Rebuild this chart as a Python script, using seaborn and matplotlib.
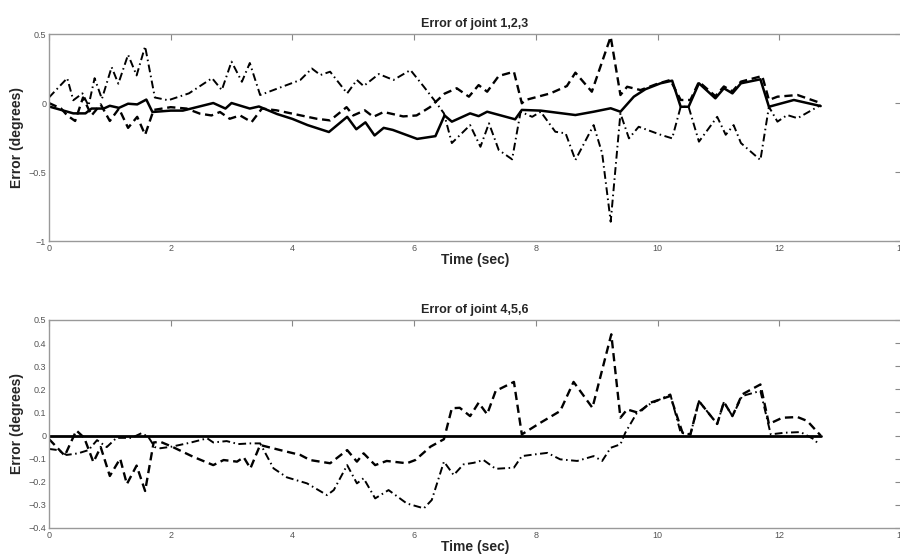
import matplotlib

matplotlib.use("Agg")
import matplotlib.pyplot as plt
import seaborn as sns

sns.set_style("white")
plt.rcParams["font.family"] = ["Liberation Sans", "DejaVu Sans"]

# ── Data: joint errors (time in sec, error in degrees) ──
# joints 1,2,3
t_j1 = [0, 0.2, 0.4, 0.6, 0.7, 0.9, 1.0, 1.15, 1.3, 1.45, 1.6, 1.7, 2.0, 2.2, 2.7, 2.9,
        3.0, 3.3, 3.45, 3.75, 4.0, 4.25, 4.6, 4.9, 5.05, 5.2, 5.35, 5.5, 5.65, 6.05, 6.35,
        6.5, 6.62, 6.92, 7.06, 7.2, 7.66, 7.77, 8.08, 8.65, 8.95, 9.23, 9.39, 9.61, 9.8,
        10.05, 10.24, 10.38, 10.51, 10.68, 10.95, 11.09, 11.23, 11.37, 11.69, 11.83, 12.24, 12.68]
err_j1 = [-0.025, -0.05, -0.075, -0.075, -0.04, -0.04, -0.02, -0.035, -0.005, -0.01, 0.025,
          -0.065, -0.055, -0.055, 0.0, -0.04, 0.0, -0.04, -0.025, -0.08, -0.115, -0.16, -0.21,
          -0.1, -0.19, -0.14, -0.235, -0.18, -0.195, -0.26, -0.24, -0.09, -0.135, -0.075,
          -0.095, -0.063, -0.118, -0.05, -0.055, -0.087, -0.063, -0.038, -0.063, 0.046, 0.1,
          0.143, 0.162, -0.027, -0.027, 0.143, 0.034, 0.107, 0.07, 0.143, 0.172, -0.027, 0.022, -0.022]

t_j2 = [0, 0.2, 0.3, 0.43, 0.56, 0.7, 0.85, 1.0, 1.15, 1.3, 1.45, 1.58, 1.72, 2.0, 2.26,
        2.48, 2.67, 2.81, 2.97, 3.14, 3.33, 3.5, 3.74, 4.0, 4.4, 4.62, 4.89, 5.0, 5.19, 5.33,
        5.5, 5.82, 6.04, 6.26, 6.5, 6.7, 6.9, 7.06, 7.2, 7.39, 7.64, 7.77, 7.83, 8.24, 8.51,
        8.65, 8.92, 9.23, 9.39, 9.5, 9.72, 10.0, 10.21, 10.38, 10.54, 10.68, 10.95, 11.09,
        11.23, 11.37, 11.72, 11.83, 11.97, 12.3, 12.68]
err_j2 = [0.0, -0.04, -0.09, -0.13, 0.04, -0.09, -0.01, -0.13, -0.04, -0.18, -0.1, -0.23,
          -0.05, -0.03, -0.04, -0.077, -0.09, -0.065, -0.114, -0.09, -0.138, -0.04, -0.053,
          -0.077, -0.114, -0.126, -0.03, -0.09, -0.053, -0.1, -0.065, -0.097, -0.09, -0.03,
          0.068, 0.107, 0.046, 0.13, 0.082, 0.196, 0.227, -0.002, 0.022, 0.07, 0.123, 0.22,
          0.082, 0.48, 0.058, 0.118, 0.094, 0.14, 0.167, 0.022, 0.022, 0.154, 0.05, 0.12,
          0.085, 0.155, 0.196, 0.022, 0.046, 0.058, 0.0]

t_j3 = [0, 0.3, 0.4, 0.55, 0.65, 0.75, 0.87, 1.03, 1.14, 1.3, 1.44, 1.58, 1.74, 1.96, 2.3,
        2.68, 2.84, 3.0, 3.17, 3.3, 3.47, 4.13, 4.32, 4.46, 4.62, 4.9, 5.06, 5.17, 5.42,
        5.66, 5.94, 6.16, 6.35, 6.49, 6.62, 6.92, 7.09, 7.23, 7.39, 7.61, 7.75, 7.94, 8.08,
        8.32, 8.49, 8.65, 8.95, 9.09, 9.23, 9.39, 9.53, 9.69, 10.05, 10.24, 10.38, 10.51,
        10.68, 10.98, 11.12, 11.25, 11.37, 11.69, 11.83, 11.97, 12.13, 12.3, 12.68]
err_j3 = [0.04, 0.18, 0.02, 0.07, -0.02, 0.18, 0.03, 0.26, 0.14, 0.35, 0.2, 0.41, 0.04,
          0.02, 0.07, 0.18, 0.094, 0.3, 0.154, 0.29, 0.058, 0.167, 0.25, 0.203, 0.227, 0.07,
          0.167, 0.123, 0.21, 0.167, 0.239, 0.118, 0.01, -0.075, -0.29, -0.16, -0.317,
          -0.147, -0.34, -0.408, -0.063, -0.1, -0.063, -0.208, -0.22, -0.413, -0.16, -0.365,
          -0.86, -0.075, -0.256, -0.172, -0.23, -0.256, -0.027, -0.027, -0.28, -0.1, -0.23,
          -0.16, -0.29, -0.413, -0.027, -0.135, -0.087, -0.11, -0.015]

# joints 4,5,6
t_j4 = [0, 12.68]
err_j4 = [0.0, 0.0]

t_j5 = [0, 0.26, 0.45, 0.58, 0.73, 0.85, 1.0, 1.17, 1.28, 1.44, 1.58, 1.72, 1.83, 2.02,
        2.37, 2.7, 2.87, 3.09, 3.2, 3.31, 3.47, 3.8, 4.13, 4.29, 4.62, 4.9, 5.06, 5.17,
        5.36, 5.55, 5.88, 6.02, 6.27, 6.49, 6.62, 6.75, 6.92, 7.06, 7.2, 7.34, 7.64, 7.77,
        8.08, 8.4, 8.62, 8.93, 9.24, 9.39, 9.5, 9.69, 9.88, 10.21, 10.41, 10.54, 10.68,
        10.98, 11.09, 11.23, 11.39, 11.69, 11.83, 12.05, 12.3, 12.46, 12.68]
err_j5 = [-0.015, -0.087, 0.022, -0.01, -0.115, -0.05, -0.175, -0.1, -0.21, -0.13, -0.24,
          -0.03, -0.027, -0.048, -0.092, -0.128, -0.106, -0.113, -0.094, -0.142, -0.041,
          -0.063, -0.084, -0.106, -0.12, -0.063, -0.113, -0.077, -0.128, -0.11, -0.12,
          -0.106, -0.048, -0.016, 0.118, 0.12, 0.084, 0.142, 0.092, 0.193, 0.232, 0.005,
          0.056, 0.106, 0.232, 0.12, 0.438, 0.077, 0.113, 0.098, 0.142, 0.171, 0.012, 0.005,
          0.149, 0.05, 0.145, 0.084, 0.178, 0.221, 0.05, 0.077, 0.08, 0.063, 0.0]

t_j6 = [0, 0.15, 0.29, 0.48, 0.65, 0.79, 0.95, 1.11, 1.36, 1.52, 1.63, 1.74, 1.83, 2.02,
        2.32, 2.6, 2.7, 2.92, 3.11, 3.31, 3.47, 3.69, 3.91, 4.24, 4.57, 4.68, 4.9, 5.06,
        5.17, 5.36, 5.58, 5.88, 6.16, 6.29, 6.49, 6.65, 6.81, 6.98, 7.14, 7.34, 7.64, 7.77,
        7.97, 8.19, 8.4, 8.68, 8.95, 9.09, 9.23, 9.39, 9.47, 9.66, 9.86, 10.21, 10.38,
        10.54, 10.68, 10.98, 11.09, 11.23, 11.39, 11.69, 11.86, 12.08, 12.35, 12.57, 12.62]
err_j6 = [-0.058, -0.063, -0.084, -0.077, -0.063, -0.02, -0.05, -0.01, -0.01, 0.01, -0.005,
          -0.05, -0.055, -0.048, -0.031, -0.012, -0.03, -0.024, -0.037, -0.034, -0.034,
          -0.142, -0.181, -0.207, -0.258, -0.236, -0.128, -0.207, -0.185, -0.272, -0.236,
          -0.294, -0.315, -0.279, -0.113, -0.171, -0.125, -0.118, -0.106, -0.144, -0.139,
          -0.089, -0.082, -0.075, -0.103, -0.11, -0.089, -0.11, -0.053, -0.038, 0.012, 0.098,
          0.134, 0.178, 0.012, 0.005, 0.149, 0.05, 0.145, 0.084, 0.171, 0.193, 0.005, 0.012,
          0.015, -0.016, -0.03]

SOLID = "-"
DASHED = (0, (3.5, 2))
DASHDOT = (0, (4, 1.8, 0.8, 1.8))

fig = plt.figure(figsize=(9, 5.56), dpi=100)
ax1 = fig.add_axes([0.0544, 0.5665, 0.9467, 0.3723])
ax2 = fig.add_axes([0.0544, 0.0504, 0.9467, 0.3741])

panels = [
    (ax1, "Error of joint 1,2,3",
     [(t_j1, err_j1, SOLID, 1.8), (t_j2, err_j2, DASHED, 1.7), (t_j3, err_j3, DASHDOT, 1.4)],
     (-1, 0.5), [-1, -0.5, 0, 0.5], ["\u22121", "\u22120.5", "0", "0.5"]),
    (ax2, "Error of joint 4,5,6",
     [(t_j4, err_j4, SOLID, 2.0), (t_j5, err_j5, DASHED, 1.7), (t_j6, err_j6, DASHDOT, 1.4)],
     (-0.4, 0.5), [-0.4, -0.3, -0.2, -0.1, 0, 0.1, 0.2, 0.3, 0.4, 0.5],
     ["\u22120.4", "\u22120.3", "\u22120.2", "\u22120.1", "0", "0.1", "0.2", "0.3", "0.4", "0.5"]),
]

for ax, title, series, ylim, yticks, ylabels in panels:
    for t, err, ls, lw in series:
        sns.lineplot(x=t, y=err, ax=ax, color="black", linestyle=ls, linewidth=lw,
                     estimator=None, sort=False)
    ax.set_xlim(0, 14)
    ax.set_ylim(*ylim)
    ax.set_xticks(range(0, 15, 2))
    ax.set_yticks(yticks)
    ax.set_yticklabels(ylabels)
    ax.tick_params(direction="in", top=True, right=True, length=4, width=0.8,
                   labelsize=6.5, colors="#888888", labelcolor="#555555", pad=2)
    for sp in ax.spines.values():
        sp.set_color("#999999")
        sp.set_linewidth(1.0)
    ax.set_title(title, fontsize=9, fontweight="bold", pad=5)
    ax.set_xlabel("Time (sec)", fontsize=10, fontweight="bold", labelpad=0)
    ax.set_ylabel("Error (degrees)", fontsize=10, fontweight="bold", labelpad=3)

fig.savefig("out.png", dpi=100)
